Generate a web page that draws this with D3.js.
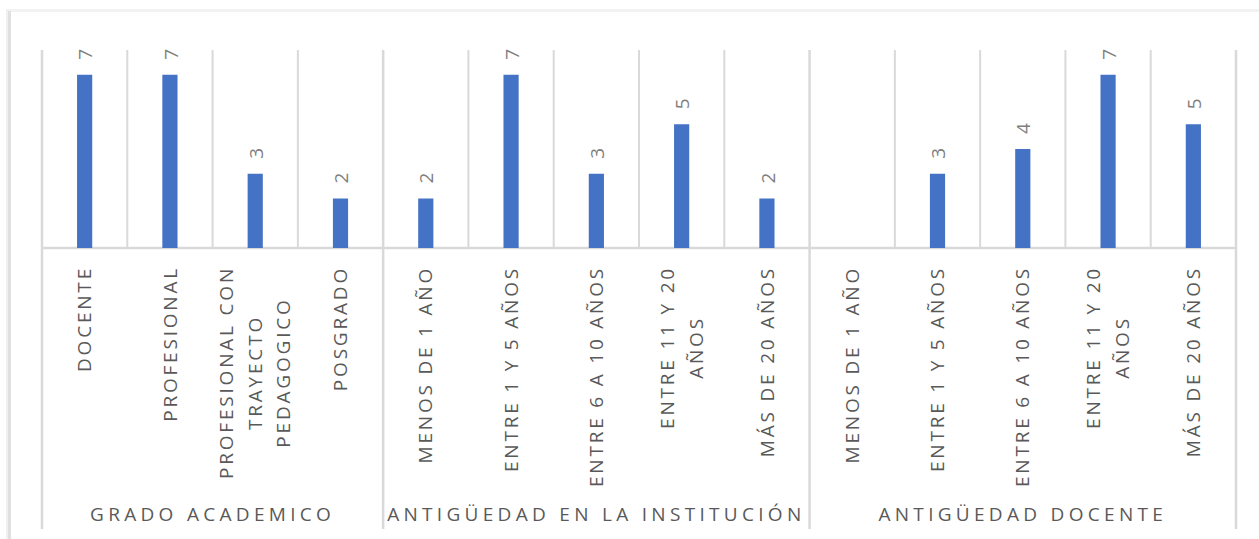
<!DOCTYPE html>
<html>
<head>
<meta charset="utf-8">
<script src="https://cdn.jsdelivr.net/npm/d3@7"></script>
<style>
  body { margin: 0; background: #fff; }
  svg { display: block; font-family: "Open Sans", sans-serif; }
</style>
</head>
<body>
<div id="chart"></div>
<script>
// categories (lines of each wrapped label), their group and the counts
const groups = ["GRADO ACADEMICO", "ANTIGÜEDAD EN LA INSTITUCIÓN", "ANTIGÜEDAD DOCENTE"];
const categories = [
    ["DOCENTE"],
    ["PROFESIONAL"],
    ["PROFESIONAL CON", "TRAYECTO", "PEDAGOGICO"],
    ["POSGRADO"],
    ["MENOS DE 1 AÑO"],
    ["ENTRE 1 Y 5 AÑOS"],
    ["ENTRE 6 A 10 AÑOS"],
    ["ENTRE 11 Y 20", "AÑOS"],
    ["MÁS DE 20 AÑOS"],
    ["MENOS DE 1 AÑO"],
    ["ENTRE 1 Y 5 AÑOS"],
    ["ENTRE 6 A 10 AÑOS"],
    ["ENTRE 11 Y 20", "AÑOS"],
    ["MÁS DE 20 AÑOS"]
];
const groupOf = [0, 0, 0, 0, 1, 1, 1, 1, 1, 2, 2, 2, 2, 2];
const values = [7, 7, 3, 2, 2, 7, 3, 5, 2, null, 3, 4, 7, 5];

const W = 1259, H = 539;
const plotLeft = 42, plotRight = 1236, plotTop = 50, base = 248, axisBottom = 529;

const svg = d3.select("#chart").append("svg")
    .attr("width", W)
    .attr("height", H);

// chart frame
svg.append("rect").attr("x", 6).attr("y", 9).attr("width", W - 6).attr("height", 3).attr("fill", "#f2f2f2");
svg.append("rect").attr("x", 6).attr("y", 9).attr("width", 2).attr("height", H - 9).attr("fill", "#f0f0f0");
svg.append("rect").attr("x", 8).attr("y", 11).attr("width", 3).attr("height", H - 11).attr("fill", "#e0e0e0");

const idx = d3.range(categories.length);

const x = d3.scaleBand()
    .domain(idx)
    .range([plotLeft, plotRight])
    .padding(0);

const y = d3.scaleLinear()
    .domain([0, 8])
    .range([base, plotTop]);

const gridColor = "#d9d9d9";

// vertical gridlines between categories (plot area only)
svg.append("g").selectAll("line")
    .data(idx.slice(1).filter(i => groupOf[i] === groupOf[i - 1]))
    .enter().append("line")
    .attr("x1", i => x(i)).attr("x2", i => x(i))
    .attr("y1", plotTop).attr("y2", base)
    .attr("stroke", gridColor).attr("stroke-width", 2);

// group separators run down through the label area
const seps = [0].concat(idx.slice(1).filter(i => groupOf[i] !== groupOf[i - 1]));
svg.append("g").selectAll("line")
    .data(seps.map(i => x(i)).concat([plotRight]))
    .enter().append("line")
    .attr("x1", d => d).attr("x2", d => d)
    .attr("y1", plotTop).attr("y2", axisBottom)
    .attr("stroke", gridColor).attr("stroke-width", 2.5);

// baseline
svg.append("line")
    .attr("x1", plotLeft).attr("x2", plotRight)
    .attr("y1", base).attr("y2", base)
    .attr("stroke", gridColor).attr("stroke-width", 2.5);

// bars
const barW = x.bandwidth() * 0.178;
const withVal = idx.filter(i => values[i] != null);

svg.append("g").selectAll("rect")
    .data(withVal)
    .enter().append("rect")
    .attr("x", i => x(i) + x.bandwidth() / 2 - barW / 2)
    .attr("y", i => y(values[i]))
    .attr("width", barW)
    .attr("height", i => base - y(values[i]))
    .attr("fill", "#4472c4");

// value labels, rotated
svg.append("g").selectAll("text")
    .data(withVal)
    .enter().append("text")
    .attr("transform", i => "translate(" + (x(i) + x.bandwidth() / 2 + 1) + "," + (y(values[i]) - 15) + ") rotate(-90)")
    .attr("dy", "0.35em")
    .attr("text-anchor", "start")
    .attr("font-size", 19)
    .attr("fill", "#7f7f7f")
    .text(i => values[i]);

// category labels, rotated and wrapped
const labelTop = 266, lineGap = 28.5;
const catG = svg.append("g").selectAll("g")
    .data(idx)
    .enter().append("g");

catG.each(function (i) {
    const g = d3.select(this);
    const lines = categories[i];
    const cx = x(i) + x.bandwidth() / 2;
    const texts = g.selectAll("text")
        .data(lines)
        .enter().append("text")
        .attr("font-size", 19)
        .attr("letter-spacing", 2.8)
        .attr("fill", "#595959")
        .attr("text-anchor", "middle")
        .attr("dy", "0.35em")
        .text(d => d);
    let maxLen = 0;
    texts.each(function () { maxLen = Math.max(maxLen, this.getComputedTextLength()); });
    const cy = labelTop + maxLen / 2;
    texts.attr("transform", (d, k) => "translate(" + (cx + (k - (lines.length - 1) / 2) * lineGap) + "," + cy + ") rotate(-90)");
});

// group labels
svg.append("g").selectAll("text")
    .data(groups)
    .enter().append("text")
    .attr("x", (d, gi) => {
        const members = idx.filter(i => groupOf[i] === gi);
        return (x(members[0]) + x(members[members.length - 1]) + x.bandwidth()) / 2;
    })
    .attr("y", 521)
    .attr("text-anchor", "middle")
    .attr("font-size", 19)
    .attr("letter-spacing", 4.3)
    .attr("fill", "#595959")
    .text(d => d);
</script>
</body>
</html>
